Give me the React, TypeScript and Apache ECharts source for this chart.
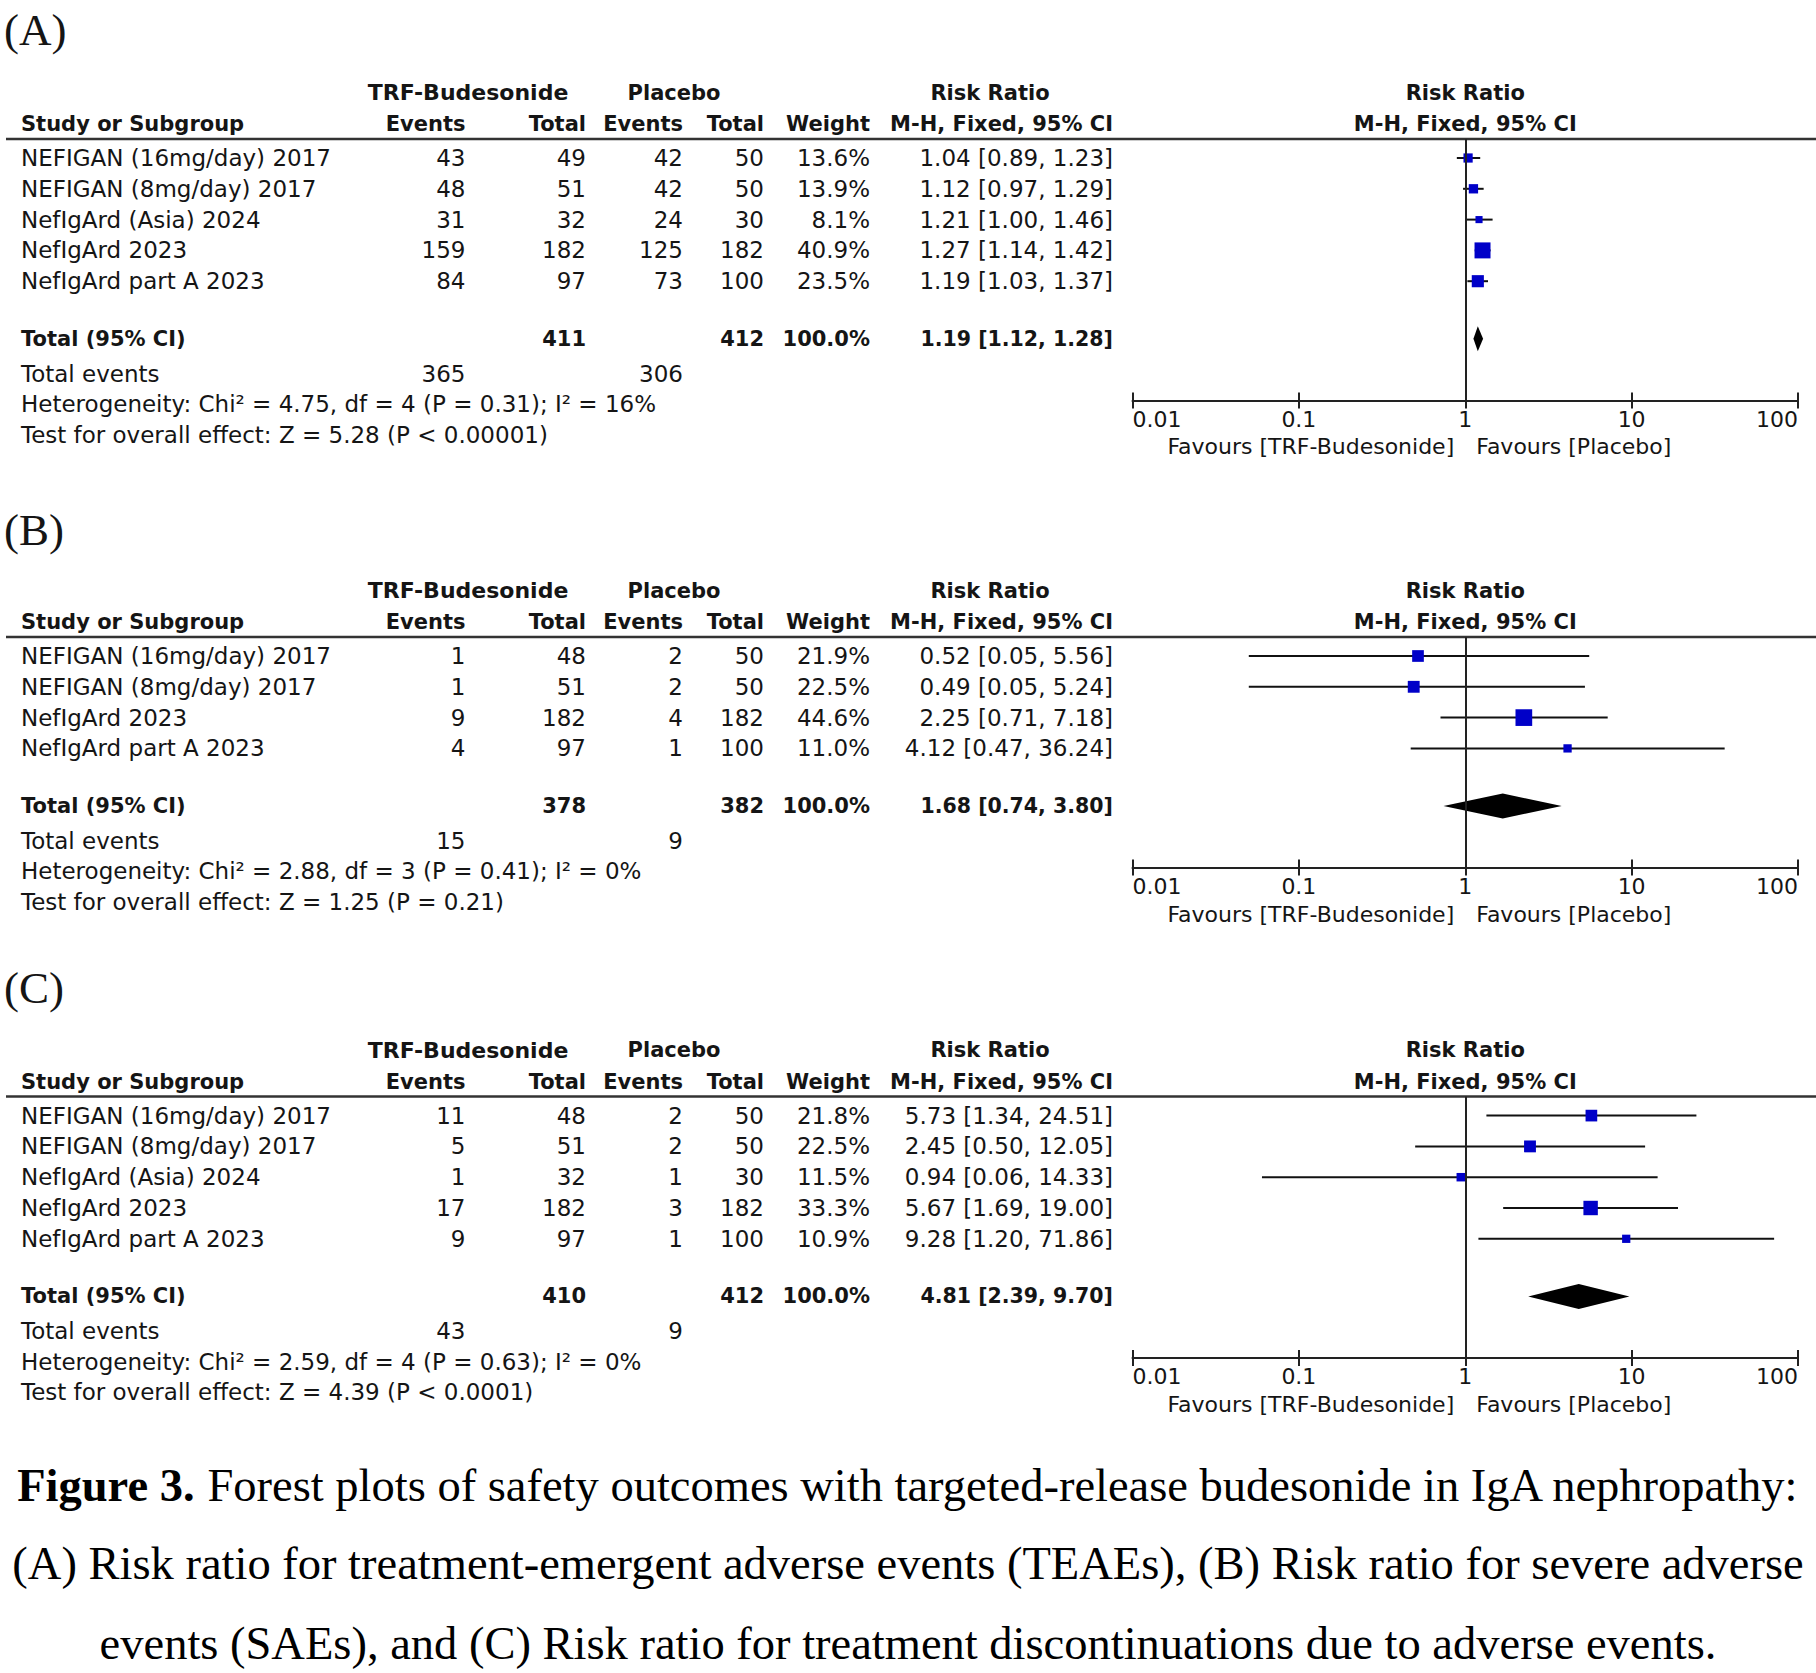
import React, { useEffect, useRef } from "react";
import * as echarts from "echarts";

// ---------------- DATA ----------------
const tickLabels = ["0.01", "0.1", "1", "10", "100"];
const axisMin = 0.01;
const axisMax = 100;

// Panel A – TEAEs
const studiesA = ["NEFIGAN (16mg/day) 2017", "NEFIGAN (8mg/day) 2017", "NefIgArd (Asia) 2024", "NefIgArd 2023", "NefIgArd part A 2023"];
const trfEventsA = [43, 48, 31, 159, 84];
const trfTotalA = [49, 51, 32, 182, 97];
const pboEventsA = [42, 42, 24, 125, 73];
const pboTotalA = [50, 50, 30, 182, 100];
const weightA = [13.6, 13.9, 8.1, 40.9, 23.5];
const rrA = [1.04, 1.12, 1.21, 1.27, 1.19];
const loA = [0.89, 0.97, 1.0, 1.14, 1.03];
const hiA = [1.23, 1.29, 1.46, 1.42, 1.37];
const totalA = { trfTotal: 411, pboTotal: 412, rr: 1.19, lo: 1.12, hi: 1.28, trfEvents: 365, pboEvents: 306 };
const hetA = "Heterogeneity: Chi² = 4.75, df = 4 (P = 0.31); I² = 16%";
const testA = "Test for overall effect: Z = 5.28 (P < 0.00001)";

// Panel B – SAEs
const studiesB = ["NEFIGAN (16mg/day) 2017", "NEFIGAN (8mg/day) 2017", "NefIgArd 2023", "NefIgArd part A 2023"];
const trfEventsB = [1, 1, 9, 4];
const trfTotalB = [48, 51, 182, 97];
const pboEventsB = [2, 2, 4, 1];
const pboTotalB = [50, 50, 182, 100];
const weightB = [21.9, 22.5, 44.6, 11.0];
const rrB = [0.52, 0.49, 2.25, 4.12];
const loB = [0.05, 0.05, 0.71, 0.47];
const hiB = [5.56, 5.24, 7.18, 36.24];
const totalB = { trfTotal: 378, pboTotal: 382, rr: 1.68, lo: 0.74, hi: 3.8, trfEvents: 15, pboEvents: 9 };
const hetB = "Heterogeneity: Chi² = 2.88, df = 3 (P = 0.41); I² = 0%";
const testB = "Test for overall effect: Z = 1.25 (P = 0.21)";

// Panel C – discontinuations
const studiesC = ["NEFIGAN (16mg/day) 2017", "NEFIGAN (8mg/day) 2017", "NefIgArd (Asia) 2024", "NefIgArd 2023", "NefIgArd part A 2023"];
const trfEventsC = [11, 5, 1, 17, 9];
const trfTotalC = [48, 51, 32, 182, 97];
const pboEventsC = [2, 2, 1, 3, 1];
const pboTotalC = [50, 50, 30, 182, 100];
const weightC = [21.8, 22.5, 11.5, 33.3, 10.9];
const rrC = [5.73, 2.45, 0.94, 5.67, 9.28];
const loC = [1.34, 0.5, 0.06, 1.69, 1.2];
const hiC = [24.51, 12.05, 14.33, 19.0, 71.86];
const totalC = { trfTotal: 410, pboTotal: 412, rr: 4.81, lo: 2.39, hi: 9.7, trfEvents: 43, pboEvents: 9 };
const hetC = "Heterogeneity: Chi² = 2.59, df = 4 (P = 0.63); I² = 0%";
const testC = "Test for overall effect: Z = 4.39 (P < 0.0001)";

const panelLabels = ["(A)", "(B)", "(C)"];
const captionBold = "Figure 3.";
const captionLines = [
  " Forest plots of safety outcomes with targeted-release budesonide in IgA nephropathy:",
  "(A) Risk ratio for treatment-emergent adverse events (TEAEs), (B) Risk ratio for severe adverse",
  "events (SAEs), and (C) Risk ratio for treatment discontinuations due to adverse events.",
];

// ---------------- LAYOUT ----------------
const W = 1816;
const H = 1673;
const SANS = '"DejaVu Sans", Verdana, sans-serif';
const SERIF = '"Liberation Serif", "Times New Roman", serif';
const INK = "#151515";
const BLUE = "#0000c8";
const FS = 23; // normal table text
const FSB = 21; // bold table text
const CAP_FS = 46.5;
const ROW_H = 30.8;
const FIRST_OFF = 19; // px from header line to first row centre
const TOTAL_GAP = 1.87; // rows between last study and total row
const AXIS_GAP = 2.0; // rows between total row and axis
const BOX_K = 2.5;
const DIAMOND_H = 25;
const PLOT_LEFT = 1132.5;
const PLOT_RIGHT = 1798;
const headerLineYs = [139, 637, 1096.6];
const labelYs = [30, 530, 988];
const COL = { study: 21, trfEv: 465.5, trfTot: 586, pboEv: 683, pboTot: 764, weight: 870, ci: 1113 };
const captionYs = [1485, 1563, 1643];

type Panel = {
  studies: string[]; trfEv: number[]; trfTot: number[]; pboEv: number[]; pboTot: number[];
  w: number[]; rr: number[]; lo: number[]; hi: number[];
  total: typeof totalA; het: string; test: string;
};

const panels: Panel[] = [
  { studies: studiesA, trfEv: trfEventsA, trfTot: trfTotalA, pboEv: pboEventsA, pboTot: pboTotalA, w: weightA, rr: rrA, lo: loA, hi: hiA, total: totalA, het: hetA, test: testA },
  { studies: studiesB, trfEv: trfEventsB, trfTot: trfTotalB, pboEv: pboEventsB, pboTot: pboTotalB, w: weightB, rr: rrB, lo: loB, hi: hiB, total: totalB, het: hetB, test: testB },
  { studies: studiesC, trfEv: trfEventsC, trfTot: trfTotalC, pboEv: pboEventsC, pboTot: pboTotalC, w: weightC, rr: rrC, lo: loC, hi: hiC, total: totalC, het: hetC, test: testC },
];

const fmt2 = (v: number) => v.toFixed(2);
const ciText = (r: number, l: number, h: number) => `${fmt2(r)} [${fmt2(l)}, ${fmt2(h)}]`;

function txt(x: number, y: number, text: string, o: { bold?: boolean; size?: number; align?: string; family?: string } = {}) {
  const align = o.align || "left";
  return {
    type: "text",
    x,
    y,
    silent: true,
    style: {
      text,
      fill: INK,
      fontSize: o.size || FS,
      fontFamily: o.family || SANS,
      fontWeight: o.bold ? "bold" : "normal",
      textAlign: align,
      align,
      textVerticalAlign: "middle",
      verticalAlign: "middle",
    },
  };
}

function buildOption() {
  const grids: any[] = [];
  const xAxes: any[] = [];
  const yAxes: any[] = [];
  const series: any[] = [];
  const graphics: any[] = [];

  panels.forEach((p, k) => {
    const n = p.studies.length;
    const top = headerLineYs[k];
    const yMin = -FIRST_OFF / ROW_H;
    const totalIdx = n - 1 + TOTAL_GAP;
    const yMax = totalIdx + AXIS_GAP;
    const height = (yMax - yMin) * ROW_H;
    const rowY = (v: number) => top + (v - yMin) * ROW_H;
    const axisY = top + height;

    grids.push({ left: PLOT_LEFT, width: PLOT_RIGHT - PLOT_LEFT, top, height, containLabel: false });
    const axisCommon = {
      type: "log",
      logBase: 10,
      gridIndex: k,
      min: axisMin,
      max: axisMax,
      position: "bottom",
      splitLine: { show: false },
      minorTick: { show: false },
    };
    xAxes.push({
      ...axisCommon,
      axisLine: { show: true, onZero: false, lineStyle: { color: "#222", width: 2 } },
      axisTick: { show: true, inside: false, length: 8, lineStyle: { color: "#222", width: 2 } },
      axisLabel: {
        show: true,
        margin: 8,
        color: INK,
        fontSize: 22,
        fontFamily: SANS,
        showMinLabel: true,
        showMaxLabel: true,
        alignMinLabel: "left",
        alignMaxLabel: "right",
        formatter: (v: number) => tickLabels[Math.round(Math.log10(v)) + 2] ?? "",
      },
    });
    xAxes.push({
      ...axisCommon,
      axisLine: { show: false, onZero: false },
      axisTick: { show: true, inside: true, length: 8, lineStyle: { color: "#222", width: 2 } },
      axisLabel: { show: false },
    });
    yAxes.push({ type: "value", gridIndex: k, inverse: true, min: yMin, max: yMax, show: false });

    series.push({
      type: "custom",
      xAxisIndex: 2 * k,
      yAxisIndex: k,
      silent: true,
      data: p.studies.map((_, i) => [i, p.lo[i], p.hi[i], p.rr[i], p.w[i]]),
      encode: { x: [1, 2, 3], y: 0 },
      renderItem: (_params: any, api: any) => {
        const y = api.value(0);
        const a = api.coord([api.value(1), y]);
        const b = api.coord([api.value(2), y]);
        const c = api.coord([api.value(3), y]);
        const s = BOX_K * Math.sqrt(api.value(4));
        return {
          type: "group",
          children: [
            { type: "line", shape: { x1: a[0], y1: a[1], x2: b[0], y2: b[1] }, style: { stroke: "#111", lineWidth: 2 } },
            { type: "rect", shape: { x: c[0] - s / 2, y: c[1] - s / 2, width: s, height: s }, style: { fill: BLUE } },
          ],
        };
      },
      markLine: {
        silent: true,
        symbol: ["none", "none"],
        label: { show: false },
        lineStyle: { color: "#222", width: 2, type: "solid" },
        data: [{ xAxis: 1 }],
      },
    });
    series.push({
      type: "custom",
      xAxisIndex: 2 * k,
      yAxisIndex: k,
      silent: true,
      data: [[totalIdx, p.total.lo, p.total.hi, p.total.rr]],
      encode: { x: [1, 2, 3], y: 0 },
      renderItem: (_params: any, api: any) => {
        const y = api.value(0);
        const a = api.coord([api.value(1), y]);
        const b = api.coord([api.value(2), y]);
        const c = api.coord([api.value(3), y]);
        return {
          type: "polygon",
          shape: { points: [[a[0], a[1]], [c[0], c[1] - DIAMOND_H / 2], [b[0], b[1]], [c[0], c[1] + DIAMOND_H / 2]] },
          style: { fill: "#000" },
        };
      },
    });

    // panel label
    graphics.push(txt(4, labelYs[k], panelLabels[k], { size: 45, family: SERIF }));
    // headers
    const h1 = top - 46.4;
    const h2 = top - 15;
    graphics.push(txt(468, h1, "TRF-Budesonide", { bold: true, size: 22, align: "center" }));
    graphics.push(txt(674, h1, "Placebo", { bold: true, size: FSB, align: "center" }));
    graphics.push(txt(990, h1, "Risk Ratio", { bold: true, size: FSB, align: "center" }));
    const x1 = PLOT_LEFT + (PLOT_RIGHT - PLOT_LEFT) * 0.5;
    graphics.push(txt(x1, h1, "Risk Ratio", { bold: true, size: FSB, align: "center" }));
    graphics.push(txt(COL.study, h2, "Study or Subgroup", { bold: true, size: FSB }));
    graphics.push(txt(COL.trfEv, h2, "Events", { bold: true, size: FSB, align: "right" }));
    graphics.push(txt(COL.trfTot, h2, "Total", { bold: true, size: FSB, align: "right" }));
    graphics.push(txt(COL.pboEv, h2, "Events", { bold: true, size: FSB, align: "right" }));
    graphics.push(txt(COL.pboTot, h2, "Total", { bold: true, size: FSB, align: "right" }));
    graphics.push(txt(COL.weight, h2, "Weight", { bold: true, size: FSB, align: "right" }));
    graphics.push(txt(COL.ci, h2, "M-H, Fixed, 95% CI", { bold: true, size: FSB, align: "right" }));
    graphics.push(txt(x1, h2, "M-H, Fixed, 95% CI", { bold: true, size: FSB, align: "center" }));
    // header rule
    graphics.push({ type: "line", silent: true, shape: { x1: 6, y1: top, x2: W, y2: top }, style: { stroke: "#333", lineWidth: 2.5 } });

    // study rows
    p.studies.forEach((s, i) => {
      const y = rowY(i);
      graphics.push(txt(COL.study, y, s));
      graphics.push(txt(COL.trfEv, y, String(p.trfEv[i]), { align: "right" }));
      graphics.push(txt(COL.trfTot, y, String(p.trfTot[i]), { align: "right" }));
      graphics.push(txt(COL.pboEv, y, String(p.pboEv[i]), { align: "right" }));
      graphics.push(txt(COL.pboTot, y, String(p.pboTot[i]), { align: "right" }));
      graphics.push(txt(COL.weight, y, p.w[i].toFixed(1) + "%", { align: "right" }));
      graphics.push(txt(COL.ci, y, ciText(p.rr[i], p.lo[i], p.hi[i]), { align: "right" }));
    });
    // total row
    const ty = rowY(totalIdx);
    graphics.push(txt(COL.study, ty, "Total (95% CI)", { bold: true, size: FSB }));
    graphics.push(txt(COL.trfTot, ty, String(p.total.trfTotal), { bold: true, size: FSB, align: "right" }));
    graphics.push(txt(COL.pboTot, ty, String(p.total.pboTotal), { bold: true, size: FSB, align: "right" }));
    graphics.push(txt(COL.weight, ty, "100.0%", { bold: true, size: FSB, align: "right" }));
    graphics.push(txt(COL.ci, ty, ciText(p.total.rr, p.total.lo, p.total.hi), { bold: true, size: 20.5, align: "right" }));
    graphics.push(txt(COL.study, ty + 35, "Total events"));
    graphics.push(txt(COL.trfEv, ty + 35, String(p.total.trfEvents), { align: "right" }));
    graphics.push(txt(COL.pboEv, ty + 35, String(p.total.pboEvents), { align: "right" }));
    graphics.push(txt(COL.study, ty + 65.5, p.het));
    graphics.push(txt(COL.study, ty + 96, p.test));
    // favours
    graphics.push(txt(x1 - 11, axisY + 46.5, "Favours [TRF-Budesonide]", { size: 22, align: "right" }));
    graphics.push(txt(x1 + 11, axisY + 46.5, "Favours [Placebo]", { size: 22, align: "left" }));
  });

  // caption
  graphics.push({
    type: "text",
    x: W / 2,
    y: captionYs[0],
    silent: true,
    style: {
      text: `{b|${captionBold}}${captionLines[0]}`,
      fill: "#000",
      fontSize: CAP_FS,
      fontFamily: SERIF,
      textAlign: "center",
      align: "center",
      textVerticalAlign: "middle",
      verticalAlign: "middle",
      rich: { b: { fontWeight: "bold", fontSize: CAP_FS, fontFamily: SERIF, fill: "#000" } },
    },
  });
  for (let i = 1; i < captionLines.length; i++) {
    const t: any = txt(W / 2, captionYs[i], captionLines[i], { size: CAP_FS, family: SERIF, align: "center" });
    t.style.fill = "#000";
    graphics.push(t);
  }

  return {
    animation: false,
    backgroundColor: "#ffffff",
    grid: grids,
    xAxis: xAxes,
    yAxis: yAxes,
    series,
    graphic: { elements: graphics },
  };
}

export default function App() {
  const ref = useRef<HTMLDivElement>(null);
  useEffect(() => {
    document.body.style.margin = "0";
    if (!ref.current) return;
    const chart = echarts.init(ref.current, undefined, { renderer: "svg", width: W, height: H });
    chart.setOption(buildOption() as any);
    return () => chart.dispose();
  }, []);
  return <div ref={ref} style={{ width: W, height: H, background: "#fff" }} />;
}
